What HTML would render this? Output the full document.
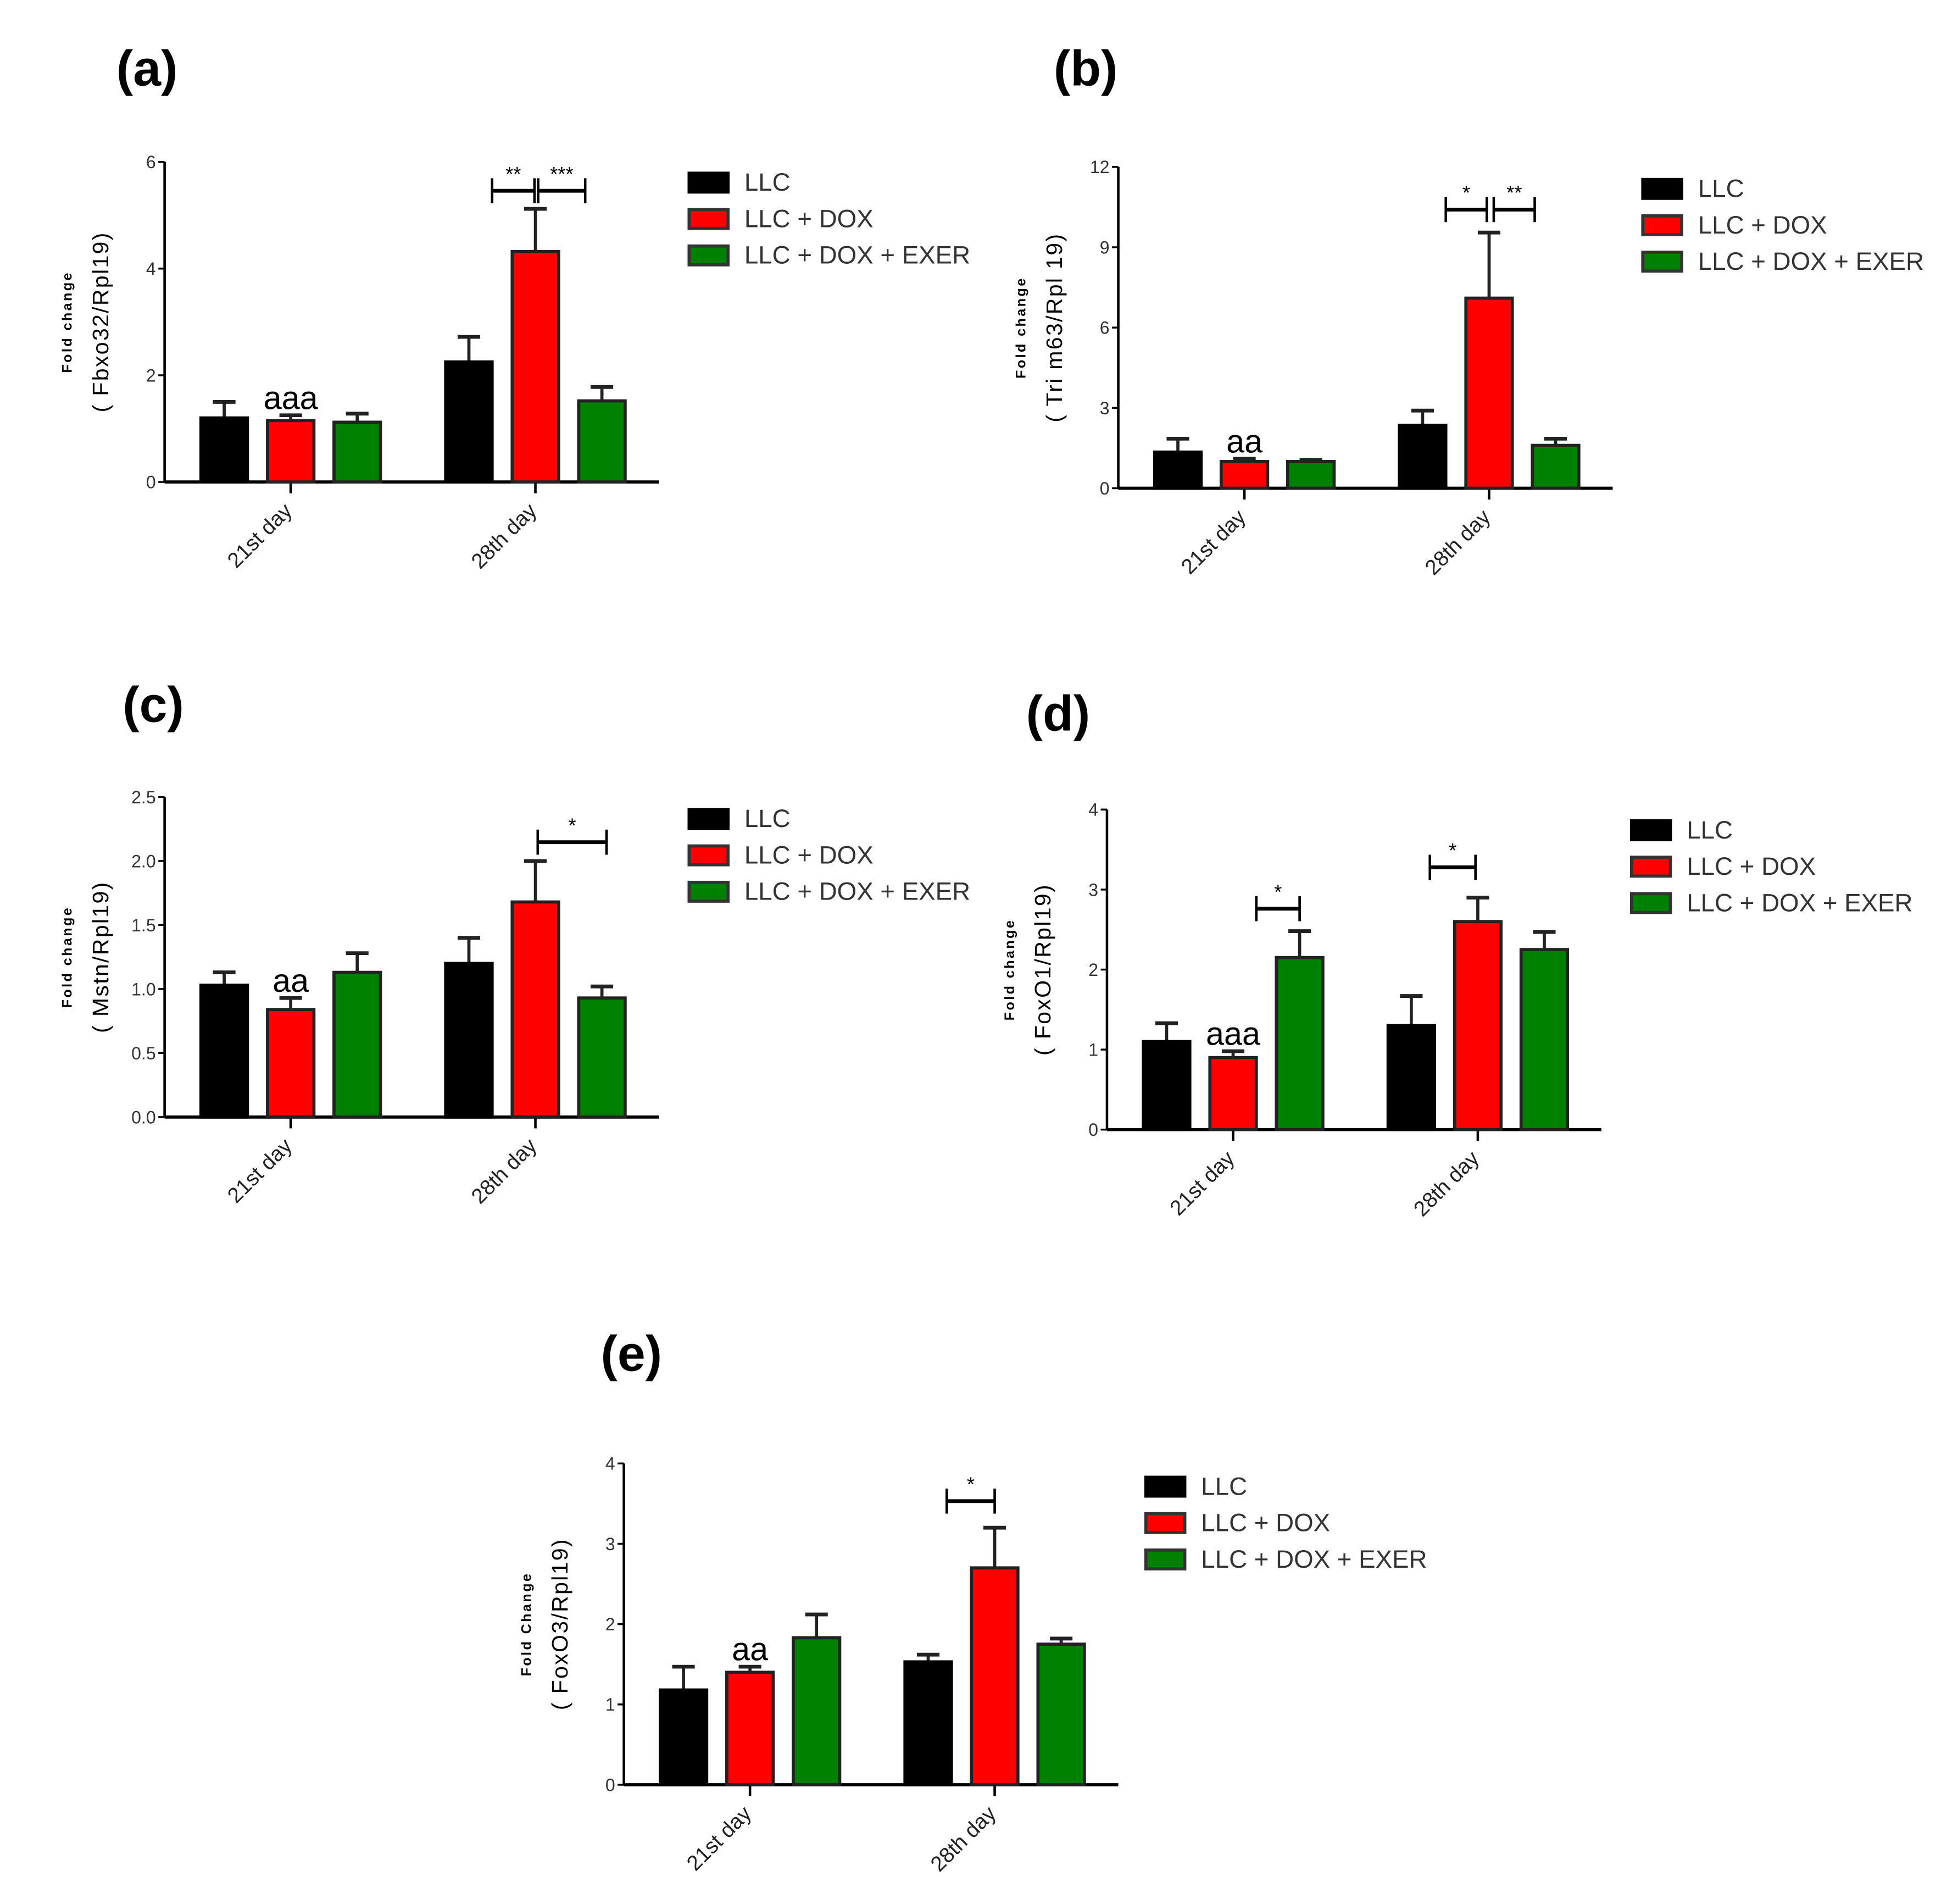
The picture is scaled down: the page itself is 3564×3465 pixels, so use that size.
<!DOCTYPE html>
<html><head><meta charset="utf-8"><style>
html,body{margin:0;padding:0;background:#fff;}
svg{display:block;}
text{font-family:"Liberation Sans",Arial,sans-serif;}
</style></head><body>
<svg id="fig" width="3564" height="3465" viewBox="0 0 1560 1517" xmlns="http://www.w3.org/2000/svg"></svg>
<script>
// Panel data
const categories = ["21st day", "28th day"];
const seriesNames = ["LLC", "LLC + DOX", "LLC + DOX + EXER"];
const seriesColors = ["#000000", "#ff0000", "#008000"];

const aMeans = [[1.2, 1.15, 1.12], [2.25, 4.32, 1.52]];
const aErr = [[1.5, 1.25, 1.28], [2.72, 5.12, 1.78]];
const aTicks = ["0", "2", "4", "6"];

const bMeans = [[1.35, 1.0, 1.0], [2.35, 7.1, 1.6]];
const bErr = [[1.85, 1.1, 1.05], [2.9, 9.55, 1.85]];
const bTicks = ["0", "3", "6", "9", "12"];

const cMeans = [[1.03, 0.84, 1.13], [1.2, 1.68, 0.93]];
const cErr = [[1.13, 0.93, 1.28], [1.4, 2.0, 1.02]];
const cTicks = ["0.0", "0.5", "1.0", "1.5", "2.0", "2.5"];

const dMeans = [[1.1, 0.9, 2.15], [1.3, 2.6, 2.25]];
const dErr = [[1.33, 0.98, 2.48], [1.67, 2.9, 2.47]];
const dTicks = ["0", "1", "2", "3", "4"];

const eMeans = [[1.18, 1.4, 1.83], [1.53, 2.7, 1.75]];
const eErr = [[1.47, 1.47, 2.12], [1.62, 3.2, 1.82]];
const eTicks = ["0", "1", "2", "3", "4"];

const NS = "http://www.w3.org/2000/svg";
const svg = document.getElementById('fig');
function mk(tag, attrs, parent, txt) {
  const e = document.createElementNS(NS, tag);
  for (const k in attrs) e.setAttribute(k, attrs[k]);
  if (txt !== undefined) e.textContent = txt;
  (parent || svg).appendChild(e);
  return e;
}

const panels = [
  {id:'a', title:'(a)', tx:117, ty:68, ax:131, top:129, bot:384, xend:525, ymax:6, ticks:aTicks, means:aMeans, err:aErr,
   lab1:'Fold change', lab2:'( Fbxo32/Rpl19)', lgx:549, lgy:145, aa:'aaa',
   sig:[{g:1,a:[0,1.0],b:[1,0.48],y:152,t:'**'},{g:1,a:[1,0.56],b:[2,0.14],y:152,t:'***'}]},
  {id:'b', title:'(b)', tx:865, ty:68, ax:891, top:133, bot:389, xend:1285, ymax:12, ticks:bTicks, means:bMeans, err:bErr,
   lab1:'Fold change', lab2:'( Tri m63/Rpl 19)', lgx:1309, lgy:150, aa:'aa',
   sig:[{g:1,a:[0,1.0],b:[1,0.45],y:167,t:'*'},{g:1,a:[1,0.6],b:[2,0.05],y:167,t:'**'}]},
  {id:'c', title:'(c)', tx:122, ty:575, ax:131, top:635, bot:890, xend:525, ymax:2.5, ticks:cTicks, means:cMeans, err:cErr,
   lab1:'Fold change', lab2:'( Mstn/Rpl19)', lgx:549, lgy:652, aa:'aa',
   sig:[{g:1,a:[1,0.55],b:[2,0.6],y:671,t:'*'}]},
  {id:'d', title:'(d)', tx:843, ty:582, ax:882, top:645, bot:900, xend:1276, ymax:4, ticks:dTicks, means:dMeans, err:dErr,
   lab1:'Fold change', lab2:'( FoxO1/Rpl19)', lgx:1300, lgy:661, aa:'aaa',
   sig:[{g:0,a:[1,1.0],b:[2,0.5],y:724,t:'*'},{g:1,a:[0,0.9],b:[1,0.45],y:691,t:'*'}]},
  {id:'e', title:'(e)', tx:503, ty:1092, ax:497, top:1166, bot:1422, xend:891, ymax:4, ticks:eTicks, means:eMeans, err:eErr,
   lab1:'Fold Change', lab2:'( FoxO3/Rpl19)', lgx:913, lgy:1184, aa:'aa',
   sig:[{g:1,a:[0,0.9],b:[1,0.5],y:1196,t:'*'}]}
];

panels.forEach(p => {
  const g = mk('g', {});
  
  
  const yScale = v => p.bot - (v / p.ymax) * (p.bot - p.top);
  const barX = (gi, si) => p.ax + 29 + gi * 195 + si * 53;
  const bw = 37;

  const t = mk('text', {x:p.tx, y:p.ty, 'font-size':40, 'font-weight':'bold', 'text-anchor':'middle'}, g, p.title);
  
  

  const ya = mk('line', {x1:p.ax, y1:p.top, x2:p.ax, y2:p.bot, stroke:'#000', 'stroke-width':2}, g);
  
  
  const xa = mk('line', {x1:p.ax, y1:p.bot, x2:p.xend, y2:p.bot, stroke:'#000', 'stroke-width':2.5}, g);
  
  

  p.ticks.forEach((tk, i) => {
    const v = i * p.ymax / (p.ticks.length - 1);
    const y = yScale(v);
    mk('line', {x1:p.ax-5, y1:y, x2:p.ax, y2:y, stroke:'#000', 'stroke-width':1.5}, g);
    const tl = mk('text', {x:p.ax-7, y:y+5, 'font-size':14, 'text-anchor':'end', fill:'#333'}, g, tk);
    
    
  });

  const cy = (p.top + p.bot) / 2;
  const l1 = mk('text', {x:0, y:0, 'font-size':11, 'font-weight':'bold', 'text-anchor':'middle', 'letter-spacing':1.5, transform:`translate(${p.ax-74},${cy}) rotate(-90)`}, g, p.lab1);
  
  
  const l2 = mk('text', {x:0, y:0, 'font-size':18, 'text-anchor':'middle', 'letter-spacing':1, transform:`translate(${p.ax-45},${cy}) rotate(-90)`}, g, p.lab2);
  
  

  categories.forEach((cat, gi) => {
    const cx = barX(gi, 1) + bw / 2;
    mk('line', {x1:cx, y1:p.bot, x2:cx, y2:p.bot+9, stroke:'#000', 'stroke-width':2}, g);
    const ct = mk('text', {x:0, y:0, 'font-size':17, 'text-anchor':'end', fill:'#222', transform:`translate(${cx+2},${p.bot+24}) rotate(-45)`}, g, cat);
    
    

    p.means[gi].forEach((m, si) => {
      const x = barX(gi, si);
      const y = yScale(m);
      const ey = yScale(p.err[gi][si]);
      const cxb = x + bw / 2;
      const el = mk('line', {x1:cxb, y1:y, x2:cxb, y2:ey, stroke:'#222', 'stroke-width':2.5}, g);
      
      
      mk('line', {x1:cxb-9, y1:ey, x2:cxb+9, y2:ey, stroke:'#222', 'stroke-width':3}, g);
      const r = mk('rect', {x:x, y:y, width:bw, height:p.bot-y, fill:seriesColors[si], stroke: si===0 ? '#000' : '#222', 'stroke-width':2.5}, g);
      
      
    });
  });

  const ax0 = barX(0, 1) + bw / 2;
  const ann = mk('text', {x:ax0, y:yScale(p.err[0][1]) - 5, 'font-size':26, 'text-anchor':'middle'}, g, p.aa);
  
  

  p.sig.forEach(s => {
    const x1 = barX(s.g, s.a[0]) + s.a[1] * bw;
    const x2 = barX(s.g, s.b[0]) + s.b[1] * bw;
    const bg = mk('g', {}, g);
    
    
    mk('line', {x1:x1, y1:s.y, x2:x2, y2:s.y, stroke:'#000', 'stroke-width':3}, bg);
    mk('line', {x1:x1, y1:s.y-10, x2:x1, y2:s.y+10, stroke:'#000', 'stroke-width':2}, bg);
    mk('line', {x1:x2, y1:s.y-10, x2:x2, y2:s.y+10, stroke:'#000', 'stroke-width':2}, bg);
    mk('text', {x:(x1+x2)/2, y:s.y-8, 'font-size':16, 'text-anchor':'middle'}, bg, s.t);
  });

  seriesNames.forEach((n, si) => {
    const y = p.lgy + si * 29;
    const lg = mk('g', {}, g);
    
    
    mk('rect', {x:p.lgx, y:y-7, width:31, height:15, fill:seriesColors[si], stroke: si===0 ? '#000' : '#333', 'stroke-width':2.5}, lg);
    mk('text', {x:p.lgx+44, y:y+7, 'font-size':20, fill:'#333'}, lg, n);
  });
});
</script>
</body></html>
